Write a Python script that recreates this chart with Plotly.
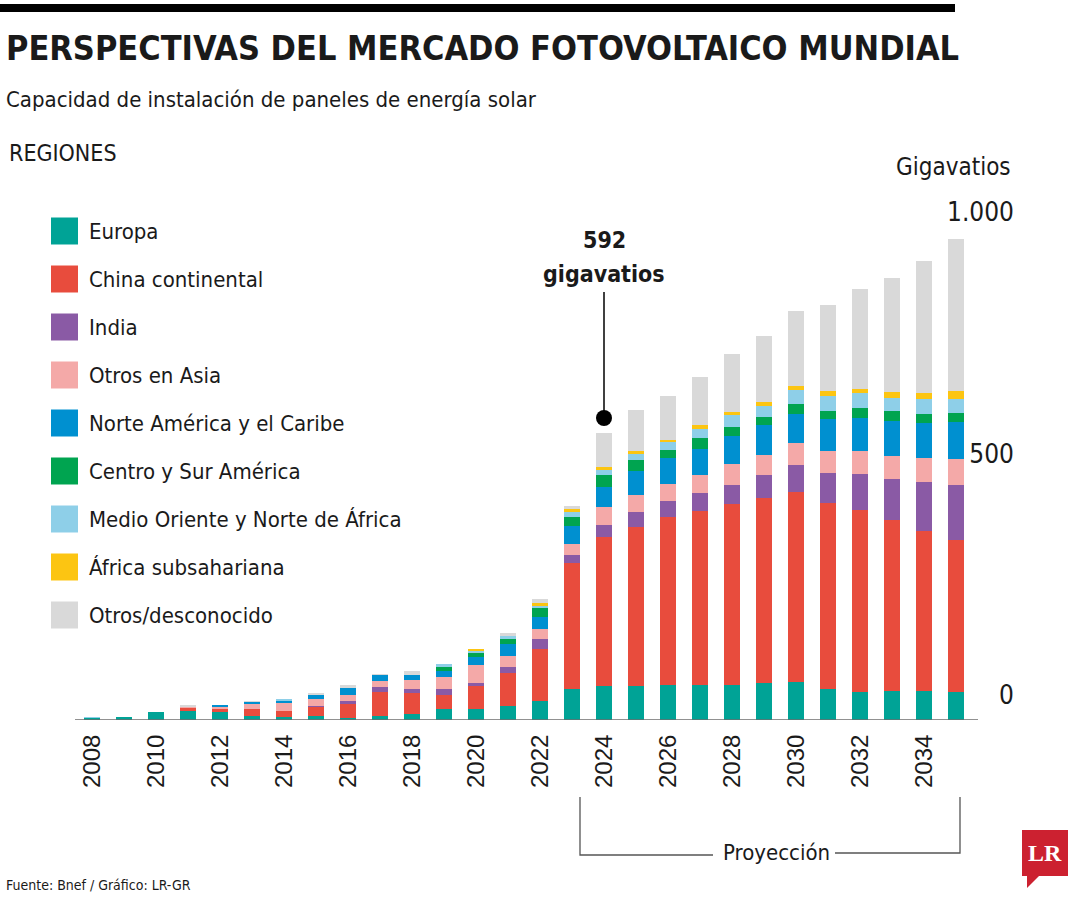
import plotly.graph_objects as go

years = list(range(2008, 2036))
series_names = ["Europa", "China continental", "India", "Otros en Asia",
                "Norte América y el Caribe", "Centro y Sur América",
                "Medio Oriente y Norte de África", "África subsahariana",
                "Otros/desconocido"]
europa = [5, 6, 16, 19, 17, 8, 6, 8, 5, 8, 12, 22, 23, 29, 39, 64, 70, 70, 72, 72, 72, 77, 79, 64, 58, 60, 60, 58]
china = [0, 0, 0, 6, 5, 14, 12, 19, 29, 50, 43, 30, 48, 68, 108, 261, 308, 329, 348, 360, 375, 383, 393, 385, 377, 354, 331, 315]
india = [0, 0, 0, 0, 0, 0, 0, 2, 6, 10, 10, 12, 6, 12, 21, 17, 25, 31, 33, 37, 39, 48, 56, 62, 75, 85, 101, 114]
otros_asia = [0, 0, 0, 3, 5, 12, 19, 14, 12, 12, 17, 25, 37, 23, 21, 23, 37, 35, 35, 39, 43, 41, 46, 46, 46, 48, 50, 54]
norte_america = [0, 0, 0, 0, 4, 4, 4, 10, 14, 14, 12, 12, 17, 25, 25, 37, 43, 50, 54, 54, 58, 62, 60, 66, 70, 72, 72, 75]
centro_sur = [0, 0, 0, 0, 0, 0, 0, 0, 0, 0, 0, 8, 8, 10, 17, 19, 25, 23, 17, 21, 19, 17, 21, 17, 19, 21, 19, 19]
medio_oriente = [1, 0, 0, 0, 0, 0, 1, 0, 0, 0, 0, 7, 4, 6, 6, 10, 10, 12, 17, 19, 25, 23, 29, 31, 31, 27, 31, 29]
africa_sub = [0, 0, 0, 0, 0, 0, 0, 0, 0, 0, 0, 0, 2, 0, 6, 6, 6, 6, 4, 8, 6, 8, 8, 10, 10, 12, 14, 17]
otros = [0, 0, 0, 3, 0, 1, 0, 1, 6, 1, 8, 0, 0, 7, 8, 6, 70, 85, 91, 101, 120, 137, 155, 178, 207, 236, 273, 315]
colors = ["#00a396", "#e84c3d", "#8a5aa5", "#f4a9a8", "#0090d0",
          "#00a450", "#8ecfe8", "#fcc512", "#d9d9d9"]
values = [europa, china, india, otros_asia, norte_america, centro_sur,
          medio_oriente, africa_sub, otros]
tick_years = list(range(2008, 2035, 2))
y_ticks = [0, 500, 1000]
y_ticktext = ["0", "500", "1.000"]
highlight_year = 2024
highlight_text = ["592", "gigavatios"]

W, H = 1080, 900
L, R, T, B = 75, 1017, 150, 720
X0, DX = 2008 - (92 - L) / 32.0, 32.0
x_range = [X0, X0 + (R - L) / DX]
y_per_px = 1 / 0.483
y_range = [0, (B - T) * y_per_px]

def pxx(p):
    return (p - L) / (R - L)

def pxy(p):
    return (B - p) / (B - T)

def gw_at(py):
    return (B - py) * y_per_px

NARROW = "DejaVu Sans Condensed, Liberation Sans Narrow, Arial Narrow, sans-serif"
TXT = "#1a1a1a"

fig = go.Figure()
for name, vals, col in zip(series_names, values, colors):
    fig.add_trace(go.Bar(x=years, y=vals, name=name, width=0.5,
                         marker=dict(color=col, line=dict(width=0)),
                         showlegend=False))

# highlight dot + line
fig.add_trace(go.Scatter(x=[highlight_year], y=[gw_at(418)], mode="markers",
                         marker=dict(color="black", size=16), showlegend=False,
                         hoverinfo="skip"))

shapes = []
annotations = []

shapes.append(dict(type="line", xref="x", yref="y", x0=highlight_year, x1=highlight_year,
                   y0=gw_at(418), y1=gw_at(292), line=dict(color="black", width=1.5)))
annotations.append(dict(xref="x", yref="y", x=highlight_year, y=gw_at(240),
                        text="<b>" + highlight_text[0] + "</b>", showarrow=False,
                        font=dict(family=NARROW, size=23, color=TXT), yanchor="middle"))
annotations.append(dict(xref="x", yref="y", x=highlight_year, y=gw_at(274),
                        text="<b>" + highlight_text[1] + "</b>", showarrow=False,
                        font=dict(family=NARROW, size=23, color=TXT), yanchor="middle"))

# baseline
shapes.append(dict(type="line", xref="paper", yref="y", x0=0, x1=pxx(978), y0=0, y1=0,
                   line=dict(color="#6d6d6d", width=1.5)))

# top black bar
shapes.append(dict(type="rect", xref="paper", yref="paper", x0=pxx(0), x1=pxx(955),
                   y0=pxy(12), y1=pxy(4), fillcolor="black", line=dict(width=0)))

# titles
annotations.append(dict(xref="paper", yref="paper", x=pxx(4), y=pxy(48), xanchor="left",
                        yanchor="middle", showarrow=False,
                        text="<b>PERSPECTIVAS DEL MERCADO FOTOVOLTAICO MUNDIAL</b>",
                        font=dict(family=NARROW, size=34, color=TXT)))
annotations.append(dict(xref="paper", yref="paper", x=pxx(4), y=pxy(100), xanchor="left",
                        yanchor="middle", showarrow=False,
                        text="Capacidad de instalación de paneles de energía solar",
                        font=dict(family=NARROW, size=22, color=TXT)))
annotations.append(dict(xref="paper", yref="paper", x=pxx(7), y=pxy(153), xanchor="left",
                        yanchor="middle", showarrow=False, text="REGIONES",
                        font=dict(family=NARROW, size=23, color=TXT)))
annotations.append(dict(xref="paper", yref="paper", x=pxx(1013), y=pxy(167), xanchor="right",
                        yanchor="middle", showarrow=False, text="Gigavatios",
                        font=dict(family=NARROW, size=24, color=TXT)))

# legend
for i, (name, col) in enumerate(zip(series_names, colors)):
    cy = 231 + 48 * i
    shapes.append(dict(type="rect", xref="paper", yref="paper", x0=pxx(51), x1=pxx(78),
                       y0=pxy(cy + 13.5), y1=pxy(cy - 13.5), fillcolor=col, line=dict(width=0)))
    annotations.append(dict(xref="paper", yref="paper", x=pxx(87), y=pxy(cy),
                            xanchor="left", yanchor="middle", showarrow=False, text=name,
                            font=dict(family=NARROW, size=22, color=TXT)))

# Proyección bracket
bc = "#555555"
shapes.append(dict(type="path", xref="paper", yref="paper",
                   path=f"M {pxx(580)},{pxy(797)} L {pxx(580)},{pxy(855)} L {pxx(713)},{pxy(855)}",
                   line=dict(color=bc, width=1.3)))
shapes.append(dict(type="path", xref="paper", yref="paper",
                   path=f"M {pxx(835)},{pxy(853)} L {pxx(960)},{pxy(853)} L {pxx(960)},{pxy(797)}",
                   line=dict(color=bc, width=1.3)))
annotations.append(dict(xref="paper", yref="paper", x=pxx(776), y=pxy(852), xanchor="center",
                        yanchor="middle", showarrow=False, text="Proyección",
                        font=dict(family=NARROW, size=22, color=TXT)))

# source
annotations.append(dict(xref="paper", yref="paper", x=pxx(4), y=pxy(885), xanchor="left",
                        yanchor="middle", showarrow=False, text="Fuente: Bnef / Gráfico: LR-GR",
                        font=dict(family=NARROW, size=14, color=TXT)))

# LR logo
red = "#cc2130"
shapes.append(dict(type="rect", xref="paper", yref="paper", x0=pxx(1022), x1=pxx(1068),
                   y0=pxy(876), y1=pxy(830), fillcolor=red, line=dict(width=0)))
shapes.append(dict(type="path", xref="paper", yref="paper",
                   path=f"M {pxx(1027)},{pxy(875)} L {pxx(1027)},{pxy(888)} L {pxx(1040)},{pxy(875)} Z",
                   fillcolor=red, line=dict(width=0)))
annotations.append(dict(xref="paper", yref="paper", x=pxx(1045), y=pxy(853), xanchor="center",
                        yanchor="middle", showarrow=False, text="<b>LR</b>",
                        font=dict(family="Liberation Serif, DejaVu Serif, serif", size=24, color="white")))

fig.update_layout(
    width=W, height=H, barmode="stack",
    margin=dict(l=L, r=W - R, t=T, b=H - B, pad=0),
    paper_bgcolor="white", plot_bgcolor="white",
    shapes=shapes, annotations=annotations,
    xaxis=dict(range=x_range, tickvals=tick_years, tickangle=-90,
               tickfont=dict(family="Liberation Sans, Arial, sans-serif", size=24, color=TXT),
               ticks="outside", ticklen=4, tickcolor="rgba(0,0,0,0)",
               showgrid=False, zeroline=False, showline=False),
    yaxis=dict(range=y_range, tickvals=y_ticks, ticktext=y_ticktext, side="right",
               ticklabelposition="inside", ticklabelshift=-25, ticks="",
               tickfont=dict(family=NARROW, size=26, color=TXT),
               showgrid=False, zeroline=False, showline=False),
    hovermode=False,
)

fig.write_html("out.html", config={"displayModeBar": False},
               post_script="document.body.style.margin='0px';")
